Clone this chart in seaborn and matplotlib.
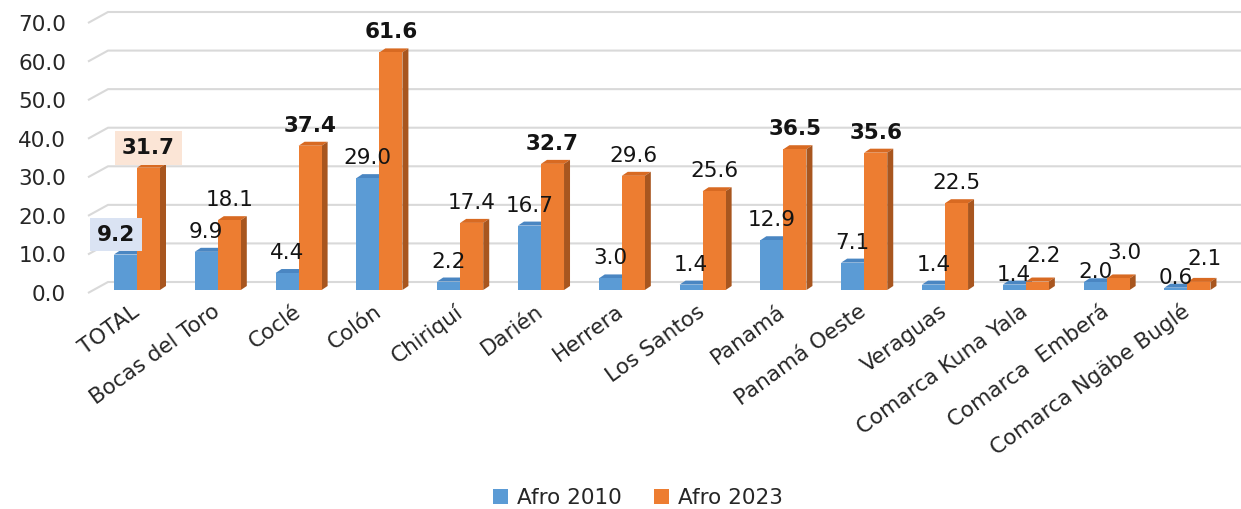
import matplotlib
matplotlib.use("Agg")
import matplotlib.pyplot as plt
import matplotlib.transforms as mtrans
from matplotlib.patches import Polygon, Patch
import numpy as np
import pandas as pd
import seaborn as sns

# ---------------- data ----------------
categories = ["TOTAL", "Bocas del Toro", "Coclé", "Colón", "Chiriquí", "Darién",
              "Herrera", "Los Santos", "Panamá", "Panamá Oeste", "Veraguas",
              "Comarca Kuna Yala", "Comarca  Emberá", "Comarca Ngäbe Buglé"]
afro_2010 = [9.2, 9.9, 4.4, 29.0, 2.2, 16.7, 3.0, 1.4, 12.9, 7.1, 1.4, 1.4, 2.0, 0.6]
afro_2023 = [31.7, 18.1, 37.4, 61.6, 17.4, 32.7, 29.6, 25.6, 36.5, 35.6, 22.5, 2.2, 3.0, 2.1]
series = ["Afro 2010", "Afro 2023"]
bold_2010 = ["TOTAL"]
bold_2023 = ["TOTAL", "Coclé", "Colón", "Darién", "Panamá", "Panamá Oeste"]
boxed = ["TOTAL"]
y_ticks = [0, 10, 20, 30, 40, 50, 60, 70]

# ---------------- style ----------------
front = {"Afro 2010": "#5B9BD5", "Afro 2023": "#ED7D31"}
top_c = {"Afro 2010": "#4A86C2", "Afro 2023": "#D86A22"}
side_c = {"Afro 2010": "#41719C", "Afro 2023": "#A8561F"}
box_c = {"Afro 2010": "#DAE3F3", "Afro 2023": "#FBE5D6"}
txt = "#141414"
FS = 15.5

sns.set_theme(style="white")
plt.rcParams["font.family"] = ["DejaVu Sans"]

W, H = 1241, 509
fig = plt.figure(figsize=(W / 100, H / 100), dpi=100)
ax_left, ax_bottom_px, ax_top_px = 88, 290, 20
ax = fig.add_axes([ax_left / W, (H - ax_bottom_px) / H, (W - ax_left) / W,
                   (ax_bottom_px - ax_top_px) / H])

n = len(categories)
df = pd.DataFrame({
    "Provincia": categories * 2,
    "Serie": [series[0]] * n + [series[1]] * n,
    "Valor": afro_2010 + afro_2023,
})
sns.barplot(data=df, x="Provincia", y="Valor", hue="Serie", hue_order=series,
            palette=front, width=0.57, saturation=1, errorbar=None,
            legend=False, linewidth=0, ax=ax)

xl, xr = -0.606, 13.663
ax.set_xlim(xl, xr)
ax.set_ylim(0, 70)
ux = (xr - xl) / (W - ax_left)          # data units per pixel (x)
uy = 70 / (ax_bottom_px - ax_top_px)    # data units per pixel (y)
py = 1 / uy                             # pixels per y unit

# back-wall gridlines with 3D floor offset
for v in y_ticks:
    ax.plot([xl, xl + 20 * ux, xr + 5], [v - 3 * uy, v + 8 * uy, v + 8 * uy],
            color="#D9D9D9", lw=1.5, zorder=0, clip_on=False, solid_capstyle="butt")

# 3D faces for the bars
ddx, ddy = 6 * ux, 4 * uy
for s, cont in zip(series, ax.containers):
    for bar in cont:
        bar.set_zorder(3)
        x0, w, h = bar.get_x(), bar.get_width(), bar.get_height()
        x1 = x0 + w
        ax.add_patch(Polygon([(x0, h), (x1, h), (x1 + ddx, h + ddy), (x0 + ddx, h + ddy)],
                             closed=True, fc=top_c[s], ec="none", zorder=2, clip_on=False))
        ax.add_patch(Polygon([(x1, 0), (x1, h), (x1 + ddx, h + ddy), (x1 + ddx, ddy)],
                             closed=True, fc=side_c[s], ec="none", zorder=2, clip_on=False))

# data labels
PT = 0.72  # points per pixel at 100 dpi
bars_b = list(ax.containers[0])
bars_o = list(ax.containers[1])
for i, cat in enumerate(categories):
    hb, ho = afro_2010[i], afro_2023[i]
    b_off, o_off, o_dx, b_dx = 20, 20, 0, 0
    if (ho - hb) * py < 18:
        b_off = 10
        o_off = max(22, (hb - ho) * py + b_off + 19)
        o_dx = 6
    if cat in boxed:
        b_dx = -9
    for s, bar, val, off, dxp, bold_list in ((series[0], bars_b[i], hb, b_off, b_dx, bold_2010),
                                              (series[1], bars_o[i], ho, o_off, o_dx, bold_2023)):
        kw = {}
        if cat in boxed:
            kw["bbox"] = dict(boxstyle="square,pad=0.32", fc=box_c[s], ec="none")
        ax.annotate(f"{val:.1f}", xy=(bar.get_x() + bar.get_width() / 2, val),
                    xytext=(dxp * PT, off * PT), textcoords="offset points",
                    ha="center", va="center", fontsize=FS, color=txt,
                    fontweight="bold" if cat in bold_list else "normal",
                    zorder=5, annotation_clip=False, **kw)

# axes decoration
for sp in ax.spines.values():
    sp.set_visible(False)
ax.set_xlabel("")
ax.set_ylabel("")
ax.set_yticks(y_ticks)
ax.set_yticklabels([f"{v:.1f}" for v in y_ticks])
ax.tick_params(axis="y", length=0, pad=15.8, labelsize=FS, labelcolor="#262626")
ax.tick_params(axis="x", length=0, pad=14, labelsize=FS, labelcolor="#262626")
shift = mtrans.ScaledTranslation(0, -3 / 100, fig.dpi_scale_trans)
for lbl in ax.get_yticklabels():
    lbl.set_transform(lbl.get_transform() + shift)
for lbl in ax.get_xticklabels():
    lbl.set_rotation(36)
    lbl.set_ha("right")
    lbl.set_va("center")
    lbl.set_rotation_mode("anchor")

handles = [Patch(fc=front[s], ec="none", label=s) for s in series]
fig.legend(handles=handles, loc="center", bbox_to_anchor=(0.514, 1 - 498 / H),
           ncol=2, frameon=False, fontsize=FS, handlelength=0.7, handleheight=0.7,
           handletextpad=0.4, columnspacing=1.5, labelcolor="#262626")

fig.savefig("out.png", dpi=100)
